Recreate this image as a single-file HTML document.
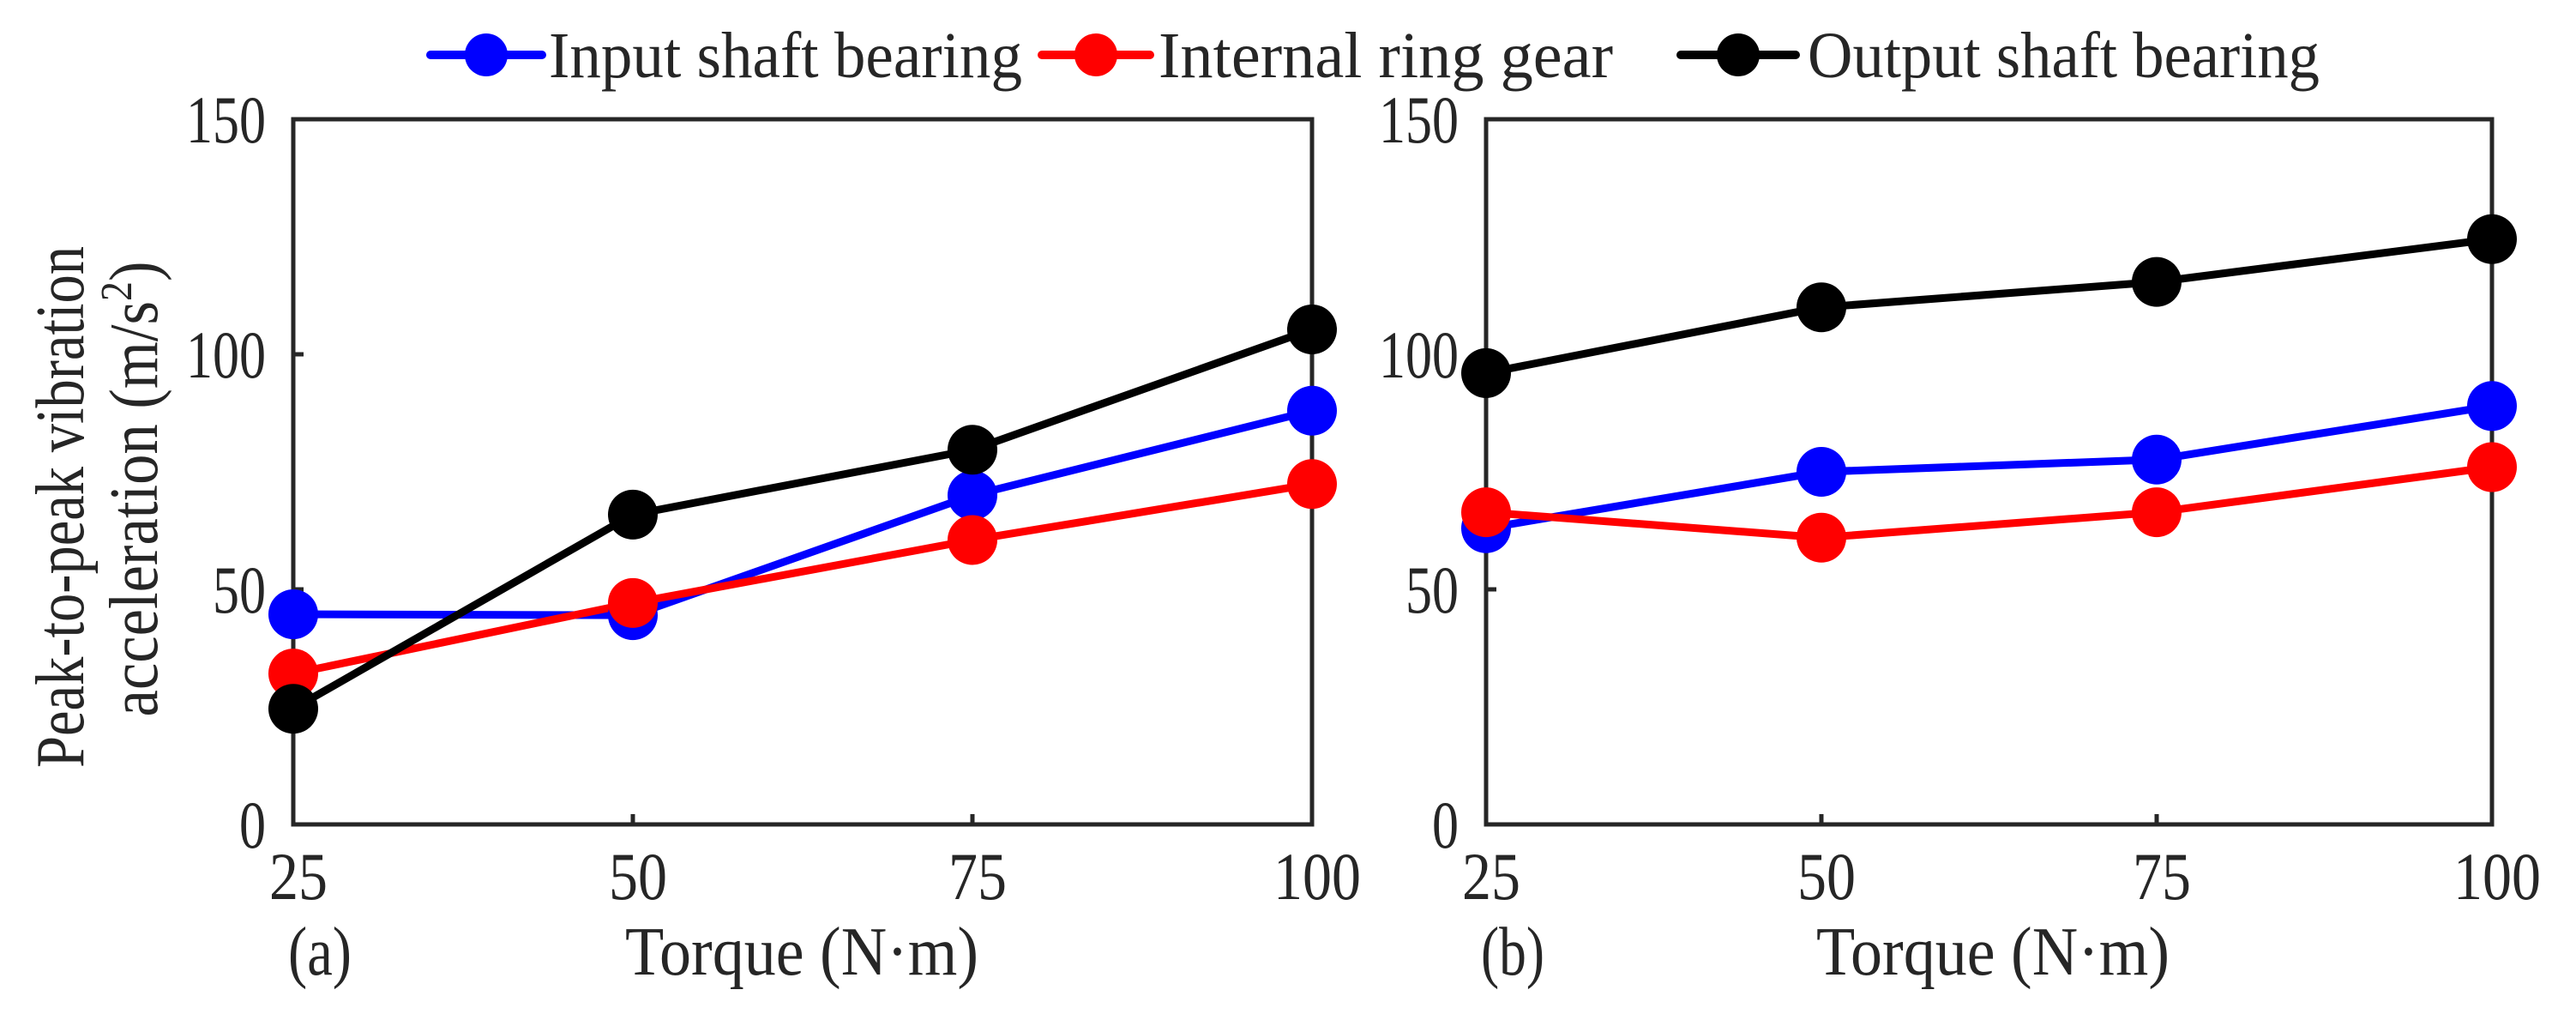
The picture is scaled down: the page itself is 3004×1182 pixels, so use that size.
<!DOCTYPE html>
<html><head><meta charset="utf-8"><style>
html,body{margin:0;padding:0;background:#fff;}
svg{display:block;}
text{font-family:"Liberation Serif",serif;fill:#262626;}
</style></head><body>
<svg id="chart" xmlns="http://www.w3.org/2000/svg" width="3004" height="1182" viewBox="0 0 3004 1182">
<g id="legend"></g>
<g id="panelA"></g>
<g id="panelB"></g>
</svg>
<script>
const categories = [25, 50, 75, 100];
const yTicks = [0, 50, 100, 150];
const seriesNames = ["Input shaft bearing", "Internal ring gear", "Output shaft bearing"];
const seriesColors = ["#0000ff", "#ff0000", "#000000"];
const aInput = [44.7, 44.5, 70, 88];
const aRing = [32.1, 47.1, 60.5, 72.4];
const aOutput = [24.6, 65.9, 79.7, 105.3];
const bInput = [63, 75, 77.6, 89];
const bRing = [66.4, 61, 66.4, 76];
const bOutput = [96, 110, 115.4, 124.5];

const NS = "http://www.w3.org/2000/svg";
function mk(tag, attrs, parent){
  const e = document.createElementNS(NS, tag);
  for (const k in attrs) e.setAttribute(k, attrs[k]);
  parent.appendChild(e);
  return e;
}
function txt(str, x, y, anchor, len, parent, size){
  const a = {x:x, y:y, 'text-anchor':anchor, 'font-size':size||78};
  if (len) { a.textLength = len; a.lengthAdjust = 'spacingAndGlyphs'; }
  const t = mk('text', a, parent);
  t.textContent = str;
  return t;
}

function drawPanel(g, left, right, top, bottom, series, letter, titleX){
  const xScale = v => left + (v - categories[0]) / (categories[categories.length-1] - categories[0]) * (right - left);
  const yScale = v => bottom - (v - yTicks[0]) / (yTicks[yTicks.length-1] - yTicks[0]) * (bottom - top);
  const frame = mk('rect', {x:left, y:top, width:right-left, height:bottom-top, fill:'none', stroke:'#262626', 'stroke-width':5}, g);
  
  
  yTicks.forEach(v => {
    const y = yScale(v);
    const tk = mk('line', {x1:left, x2:left+12, y1:y, y2:y, stroke:'#262626', 'stroke-width':5}, g);
    
    
    const lb = txt(String(v), left-32, y+27, 'end', String(v).length*31, g);
    
    
  });
  categories.forEach(v => {
    const x = xScale(v);
    const tk = mk('line', {x1:x, x2:x, y1:bottom, y2:bottom-12, stroke:'#262626', 'stroke-width':5}, g);
    
    
    const lb = txt(String(v), x+6, 1048, 'middle', String(v).length*34, g);
    
    
  });
  series.forEach((vals, si) => {
    const pts = vals.map((v,i) => xScale(categories[i]) + ',' + yScale(v)).join(' ');
    const pl = mk('polyline', {points:pts, fill:'none', stroke:seriesColors[si], 'stroke-width':9, 'stroke-linejoin':'round'}, g);
    
    
  });
  series.forEach((vals, si) => {
    vals.forEach((v,i) => {
      const c = mk('circle', {cx:xScale(categories[i]), cy:yScale(v), r:29, fill:seriesColors[si]}, g);
      
      
    });
  });
  const pl = txt('(' + letter + ')', left+31, 1136, 'middle', 74, g, 80);
  
  
  const xt = txt('Torque (N\u00b7m)', titleX, 1136, 'middle', 412, g, 80);
  
  
}

const gA = document.getElementById('panelA');
drawPanel(gA, 342, 1530, 139, 961, [aInput, aRing, aOutput], 'a', 935);
const gB = document.getElementById('panelB');
drawPanel(gB, 1733, 2906, 139, 961, [bInput, bRing, bOutput], 'b', 2324);

// y-axis title (panel a)
const yt = mk('g', {}, gA);


const t1 = mk('text', {x:0, y:0, 'text-anchor':'middle', 'font-size':80, textLength:608, lengthAdjust:'spacingAndGlyphs', transform:'translate(97,591) rotate(-90)'}, yt);
t1.textContent = 'Peak-to-peak vibration';
const t2 = mk('text', {x:0, y:0, 'text-anchor':'middle', 'font-size':80, textLength:531, lengthAdjust:'spacingAndGlyphs', transform:'translate(183,570) rotate(-90)'}, yt);
t2.textContent = 'acceleration (m/s';
const sup = mk('tspan', {dy:-30, 'font-size':52}, t2);
sup.textContent = '2';
const close = mk('tspan', {dy:30}, t2);
close.textContent = ')';

// legend
const lg = document.getElementById('legend');
const legendItems = [[502, 632, 640, 552], [1215, 1341, 1351, 530], [1960, 2094, 2108, 597]];
seriesNames.forEach((name, i) => {
  const it = legendItems[i];
  const g = mk('g', {}, lg);
  
  
  mk('line', {x1:it[0], x2:it[1], y1:64, y2:64, stroke:seriesColors[i], 'stroke-width':10, 'stroke-linecap':'round'}, g);
  mk('circle', {cx:(it[0]+it[1])/2, cy:64, r:25, fill:seriesColors[i]}, g);
  const t = txt(name, it[2], 90, 'start', it[3], g, 76);
  
  
});
</script>
</body></html>
